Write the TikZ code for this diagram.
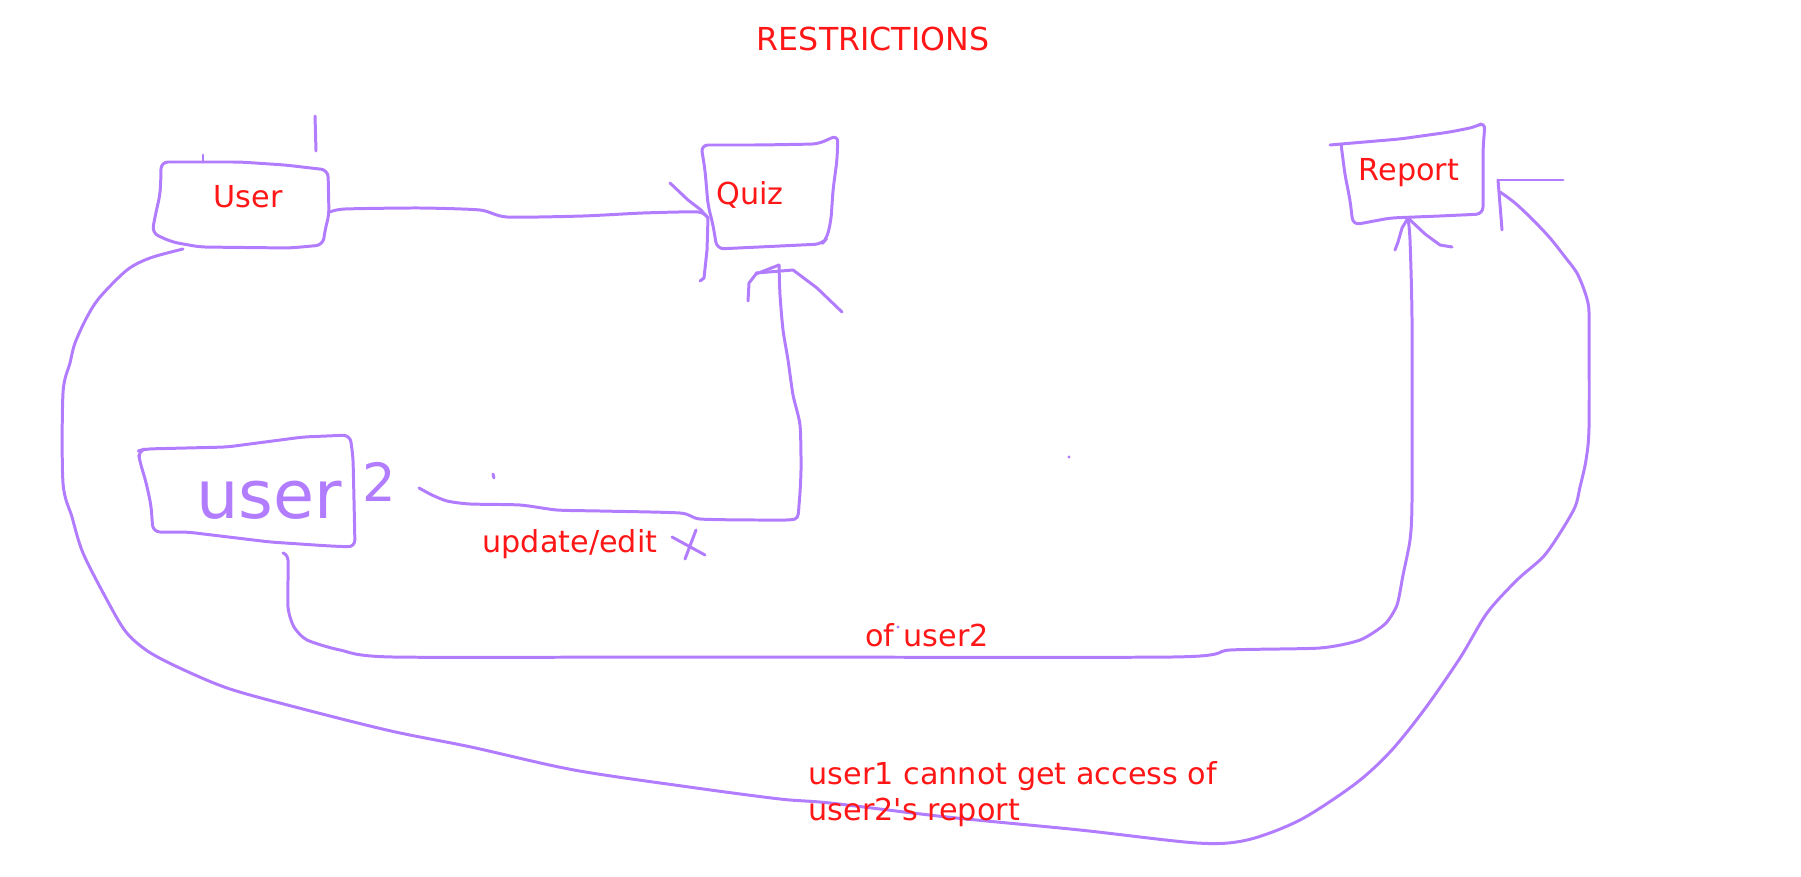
\documentclass[tikz,border=0pt]{standalone}
\usepackage{fontspec}
\setmainfont{DejaVu Sans}
\usepackage{tikz}
\usetikzlibrary{positioning}
\definecolor{penPurple}{RGB}{178,124,255}
\definecolor{inkRed}{RGB}{255,22,22}

\begin{document}
\begin{tikzpicture}[
    x=0.01cm, y=-0.01cm,
    every node/.style={font=\fontsize{8.6}{10}\selectfont, inner sep=0pt},
    lbl/.style={text=inkRed},
    pen/.style={draw=penPurple, line width=0.85pt, line cap=round, line join=round},
    box/.style={pen, rounded corners=2pt},
    scrawl/.style={text=penPurple, font=\fontsize{#1}{#1}\selectfont}
]
\useasboundingbox (0,0) rectangle (1801,876);

% Title
\node[lbl, font=\fontsize{9}{11}\selectfont] (title) at (873,39) {RESTRICTIONS};

% Labels of the boxes
\node[lbl, anchor=base] (user) at (248,208) {User};
\node[lbl, anchor=base] (quiz) at (750,205) {Quiz};
\node[lbl, anchor=base] (report) at (1409,180) {Report};
\node[scrawl=19, anchor=base] (user2) at (269,518) {user};
\node[scrawl=15, anchor=base] (two) at (379,501) {2};

% Connector ends
\coordinate (userE) at (330,212);
\coordinate (userSW) at (183,249);
\coordinate (quizW) at (708,218);
\coordinate (quizS) at (779,265);
\coordinate (user2E) at (419,488);
\coordinate (user2S) at (283,553);
\coordinate (reportS) at (1408,218);
\coordinate (reportE) at (1498,180);

% Box outlines (hand drawn)
\draw[box] (161,162) -- (240,162) -- (285,165) -- (328,170) -- (329,215) -- (325,230) -- (323,245)
    -- (290,248) -- (200,247) -- (172,242) -- (152,233) -- (156,212) -- (160,195) -- (161,175) -- cycle;
\draw[pen] (203,155) -- (203,162);
\draw[pen] (315,116) -- (316,151);

\draw[box] (701,145) -- (760,145) -- (818,144) -- (838,135) -- (837,160) -- (833,190) -- (831,220)
    -- (827,238) -- (822,244) -- (780,246) -- (717,249) -- (713,225) -- (708,205) -- (705,170) -- cycle;

\draw[box] (1330,145) -- (1341,144) -- (1400,139) -- (1450,132) -- (1475,127) -- (1485,122) -- (1483,150)
    -- (1483,214) -- (1440,216) -- (1390,218) -- (1353,225) -- (1350,200) -- (1345,175) -- (1341,144);

\draw[box] (138,451) -- (145,449) -- (227,447) -- (303,437) -- (350,435) -- (353,457) -- (354,500)
    -- (355,547) -- (330,546) -- (270,542) -- (187,532) -- (153,532) -- (151,505) -- (146,482) -- (140,462) -- cycle;

% User -> Quiz
\draw[pen] plot[smooth, tension=0.4] coordinates {(userE) (345,209) (420,208) (480,210) (507,217)
    (583,216) (643,213) (698,212) (quizW)};
\draw[pen] (670,183) -- (688,200) -- (701,210) -- (quizW);
\draw[pen] (quizW) -- (707,250) -- (704,278) -- (700,281);

% user2 -> Quiz (update/edit)
\draw[pen] plot[smooth, tension=0.4] coordinates {(user2E) (432,495) (447,501) (470,504) (520,505)
    (557,510) (600,511) (680,513) (700,519) (760,520) (795,519) (799,505) (801,470) (800,425)
    (793,395) (788,360) (783,330) (780,295) (quizS)};
\draw[pen] (748,301) -- (749,283) -- (756,274) -- (quizS);
\draw[pen] (756,273) -- (793,270) -- (817,288) -- (842,312);
\node[lbl, anchor=base] (edit) at (570,552) {update/edit};
\draw[pen] (672,537) -- (705,555);
\draw[pen] (696,530) -- (685,559);

% user2 -> Report (of user2)
\draw[pen] plot[smooth, tension=0.4] coordinates {(user2S) (288,560) (288,607) (294,627) (307,640)
    (340,650) (393,657) (700,657) (1172,657) (1230,650) (1320,648) (1360,640) (1385,624) (1397,605)
    (1403,575) (1410,540) (1412,500) (1412,320) (1410,240) (reportS)};
\draw[pen] (reportS) -- (1402,228) -- (1398,242) -- (1395,250);
\draw[pen] (reportS) -- (1425,234) -- (1440,245) -- (1452,247);
\node[lbl, anchor=base] (ofUser) at (927,646) {of user2};

% User -> Report (no access)
\draw[pen] plot[smooth, tension=0.5] coordinates {(userSW) (150,258) (127,270) (100,297) (87,317)
    (75,343) (70,363) (63,393) (63,483) (72,517) (83,553) (107,600) (126,632) (149,652) (184,670)
    (230,689) (299,708) (391,731) (471,747) (574,770) (689,787) (780,799) (830,803) (947,817)
    (1080,830) (1197,843) (1247,840) (1300,820) (1355,784) (1390,752) (1424,710) (1460,658)
    (1487,613) (1517,580) (1543,557) (1560,533) (1575,507) (1580,487) (1586,460) (1589,427)
    (1589,330) (1588,303) (1578,275) (1565,257) (1550,238) (1533,220) (1515,203) (1500,192)};
\draw[pen] (reportE) -- (1563,180);
\draw[pen] (reportE) -- (1500,205) -- (1502,230);
\node[lbl, anchor=base west, align=left] (note) at (808,820) {user1 cannot get access of\\user2\textquotesingle s report};

% stray marks
\fill[penPurple] (898,627) circle[radius=0.45pt];
\fill[penPurple] (1069,457) circle[radius=0.45pt];
\draw[pen] (493,474) -- (494,478);

\end{tikzpicture}
\end{document}
